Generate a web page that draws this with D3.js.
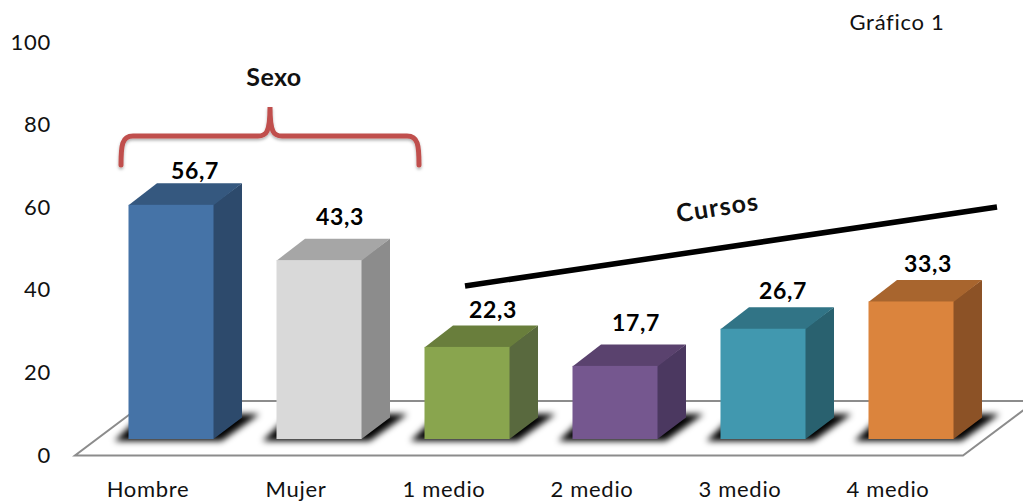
<!DOCTYPE html>
<html><head><meta charset="utf-8">
<script src="https://cdn.jsdelivr.net/npm/d3@7"></script>
<style>html,body{margin:0;padding:0;background:#fff}svg{display:block}text{font-family:Lato,"Open Sans",sans-serif;fill:#111}</style>
</head><body><svg id="c" width="1023" height="502"></svg>
<script>
const categories=["Hombre","Mujer","1 medio","2 medio","3 medio","4 medio"];
const values=[56.7,43.3,22.3,17.7,26.7,33.3];
const valueLabels=["56,7","43,3","22,3","17,7","26,7","33,3"];
const frontColors=["#4573a7","#d9d9d9","#89a54e","#75578f","#4198af","#db843d"];
const topColors=["#35587f","#a6a6a6","#697e3c","#5a426e","#317486","#a8652e"];
const sideColors=["#2d4a6c","#8c8c8c","#59693e","#4b3860","#29616f","#8c5226"];
const yTicks=[0,20,40,60,80,100];
const labelNudgeX=[1,-2,3,-2,-3,-6];
const labelNudgeY=[0,-10,-3,-9,-4,-4];

const svg=d3.select("#c");
const defs=svg.append("defs");
defs.append("filter").attr("id","blur").attr("x","-30%").attr("y","-60%").attr("width","160%").attr("height","220%")
  .append("feGaussianBlur").attr("stdDeviation",3);
defs.append("filter").attr("id","soft").attr("x","-5%").attr("y","-20%").attr("width","110%").attr("height","140%")
  .append("feDropShadow").attr("dx",0).attr("dy",2).attr("stdDeviation",1.5).attr("flood-color","#000").attr("flood-opacity",0.3);

const x=d3.scaleBand().domain(categories).range([128.5,953.5]).paddingInner(63/148).paddingOuter(0);
const floorY=455.5, y=d3.scaleLinear().domain([0,100]).range([floorY,42.5]);
const lift=16.5, dx=28.5, dy=21.5, bw=x.bandwidth();
const barTop=v=>y(v)-lift, base=floorY-lift;

const fl=[[75,floorY],[963,floorY],[1035.5,401],[147.5,401]];
svg.append("path").attr("d",d3.line()(fl)+"Z").attr("fill","#fff").attr("stroke","#8c8c8c").attr("stroke-width",2);

svg.append("g").selectAll("path").data(categories).join("path").attr("filter","url(#blur)").attr("fill","#000")
 .attr("d",d=>{const l=x(d),r=l+bw,b=base+2;return d3.line()([[l-14,b],[r+8,b],[r+46,b-27],[l+14,b-27]])+"Z";});

const g=svg.selectAll("g.bar").data(categories).join("g").attr("class","bar");
g.append("path").attr("fill",(d,i)=>sideColors[i])
 .attr("d",(d,i)=>{const r=x(d)+bw,t=barTop(values[i]);return d3.line()([[r-1,t],[r+dx,t-dy],[r+dx,base-dy],[r,base],[r-1,base]])+"Z";});
g.append("path").attr("fill",(d,i)=>topColors[i])
 .attr("d",(d,i)=>{const l=x(d),r=l+bw,t=barTop(values[i]);return d3.line()([[l,t+0.5],[l+dx,t-dy],[r+dx,t-dy],[r,t+0.5]])+"Z";});
g.append("rect").attr("fill",(d,i)=>frontColors[i]).attr("x",d=>x(d)).attr("width",bw)
 .attr("y",(d,i)=>barTop(values[i])).attr("height",(d,i)=>base-barTop(values[i]));

svg.selectAll("text.yt").data(yTicks).join("text").attr("class","yt")
 .attr("x",51).attr("y",d=>y(d)+7).attr("text-anchor","end").attr("font-size",22).attr("letter-spacing",0.7).text(d=>d);
svg.selectAll("text.xt").data(categories).join("text").attr("class","xt")
 .attr("x",d=>x(d)+bw/2-23).attr("y",497).attr("text-anchor","middle").attr("font-size",22).attr("letter-spacing",0.7).text(d=>d);
svg.selectAll("text.vl").data(categories).join("text").attr("class","vl")
 .attr("x",(d,i)=>x(d)+bw/2+23+labelNudgeX[i]).attr("y",(d,i)=>barTop(values[i])-25.5+labelNudgeY[i]).attr("text-anchor","middle")
 .attr("font-size",23).attr("font-weight",700).attr("letter-spacing",0.6).style("fill","#000").text((d,i)=>valueLabels[i]);

svg.append("path").attr("filter","url(#soft)").attr("fill","none").attr("stroke","#c0504d").attr("stroke-width",5).attr("stroke-linecap","round")
 .attr("d","M121,165 C121,145 122,136 133,136 L258,136 C266,136 270,133 270,107 C270,133 274,136 282,136 L407,136 C418,136 419,145 419,165");
svg.append("line").attr("x1",465).attr("y1",286).attr("x2",997).attr("y2",207).attr("stroke","#000").attr("stroke-width",5.5);
svg.append("text").attr("x",274).attr("y",86).attr("text-anchor","middle").attr("font-size",25).attr("font-weight",700).attr("letter-spacing",0.4).text("Sexo");
svg.append("text").attr("transform","translate(719,216) rotate(-9)").attr("text-anchor","middle").attr("font-size",25).attr("font-weight",700).attr("letter-spacing",1.2).text("Cursos");
svg.append("text").attr("x",897).attr("y",30).attr("text-anchor","middle").attr("font-size",22).attr("letter-spacing",0.7).text("Gráfico 1");
</script></body></html>
